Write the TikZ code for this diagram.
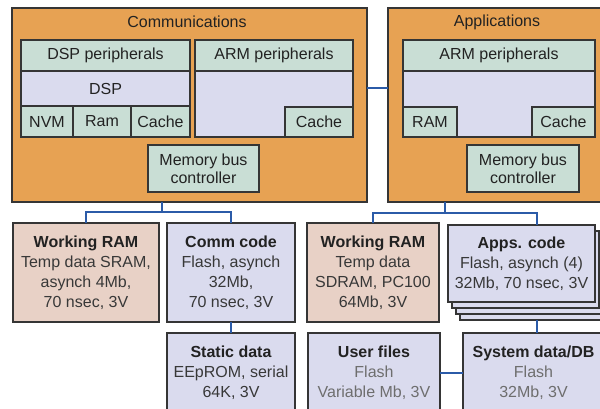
\documentclass[tikz,border=0pt]{standalone}
\usepackage{fontspec}
\setmainfont{Liberation Sans}
\definecolor{orng}{HTML}{E7A253}
\definecolor{grn}{HTML}{C9DED5}
\definecolor{lav}{HTML}{DADBEE}
\definecolor{pnk}{HTML}{E8D1C6}
\definecolor{edge}{HTML}{353535}
\definecolor{busc}{HTML}{2B5BA8}
\definecolor{txd}{HTML}{222222}
\definecolor{txb}{HTML}{383838}
\definecolor{txl}{HTML}{6E6E6E}
\begin{document}
\begin{tikzpicture}[x=1pt,y=-1pt,
  every node/.style={font=\fontsize{16}{20}\selectfont, inner sep=0pt, outer sep=0pt, text=txd},
  blk/.style={draw=edge, line width=1.6pt, anchor=north west, align=center},
  bus/.style={draw=busc, line width=2.5pt}]
\fill[white] (0,0) rectangle (600,409);
\clip (0,0) rectangle (600,409);
% big frames
\node[blk, fill=orng, minimum width=355pt, minimum height=194pt] (comm) at (12,8) {};
\node[blk, fill=orng, minimum width=216pt, minimum height=194pt] (apps) at (388,8) {};
\node (commt) at (187,22) {Communications};
\node (appst) at (497,22) {Applications};
% communications internals
\node[blk, fill=grn, minimum width=169pt, minimum height=31pt] (dspper) at (21,40) {DSP peripherals};
\node[blk, fill=lav, minimum width=169pt, minimum height=35pt] (dsp) at (21,71) {DSP};
\node[blk, fill=grn, minimum width=52pt, minimum height=31pt] (nvm) at (21,106) {NVM};
\node[blk, fill=grn, minimum width=58pt, minimum height=31pt] (ram1) at (73,106) {Ram};
\node[blk, fill=grn, minimum width=59pt, minimum height=31pt] (cache1) at (131,106) {Cache};
\node[blk, fill=grn, minimum width=158pt, minimum height=31pt] (armper1) at (195,40) {ARM peripherals};
\node[blk, fill=lav, minimum width=158pt, minimum height=66pt] (armbody1) at (195,71) {};
\node[blk, fill=grn, minimum width=68pt, minimum height=30pt] (cache2) at (285,107) {Cache};
\node[blk, fill=grn, minimum width=111pt, minimum height=47pt, font=\fontsize{16}{18}\selectfont] (mbc1) at (148,145) {Memory bus\\controller};
% applications internals
\node[blk, fill=grn, minimum width=192pt, minimum height=31pt] (armper2) at (403,40) {ARM peripherals};
\node[blk, fill=lav, minimum width=192pt, minimum height=66pt] (armbody2) at (403,71) {};
\node[blk, fill=grn, minimum width=54pt, minimum height=30pt] (ram2) at (403,107) {RAM};
\node[blk, fill=grn, minimum width=63pt, minimum height=30pt] (cache3) at (532,107) {Cache};
\node[blk, fill=grn, minimum width=112pt, minimum height=47pt, font=\fontsize{16}{18}\selectfont] (mbc2) at (467,145) {Memory bus\\controller};
% link between frames
\coordinate (lk) at (377,88);
\draw[bus] (lk -| comm.east) -- (lk -| apps.west);
% memories, communications side
\node[blk, fill=pnk, minimum width=146pt, minimum height=99pt] (wr1) at (13,223)
  {{\bfseries Working RAM}\\\textcolor{txb}{Temp data SRAM,}\\\textcolor{txb}{asynch 4Mb,}\\\textcolor{txb}{70 nsec, 3V}};
\node[blk, fill=lav, minimum width=128pt, minimum height=99pt] (cc) at (167,223)
  {{\bfseries Comm code}\\\textcolor{txb}{Flash, asynch}\\\textcolor{txb}{32Mb,}\\\textcolor{txb}{70 nsec, 3V}};
\node[blk, fill=lav, minimum width=128pt, minimum height=80pt] (sd) at (167,333)
  {{\bfseries Static data}\\\textcolor{txb}{EEpROM, serial}\\\textcolor{txb}{64K, 3V}};
% memories, applications side
\node[blk, fill=pnk, minimum width=132pt, minimum height=99pt] (wr2) at (307,223)
  {{\bfseries Working RAM}\\\textcolor{txb}{Temp data}\\\textcolor{txb}{SDRAM, PC100}\\\textcolor{txb}{64Mb, 3V}};
\node[blk, fill=lav, minimum width=147pt, minimum height=77pt] (s3) at (460,243) {};
\node[blk, fill=lav, minimum width=147pt, minimum height=77pt] (s2) at (456,237) {};
\node[blk, fill=lav, minimum width=147pt, minimum height=77pt] (s1) at (452,231) {};
\node[blk, fill=lav, minimum width=147pt, minimum height=77pt] (ac) at (448,225)
  {{\bfseries Apps. code}\\\textcolor{txb}{Flash, asynch (4)}\\\textcolor{txb}{32Mb, 70 nsec, 3V}};
\node[blk, fill=lav, minimum width=132pt, minimum height=80pt] (uf) at (308,333)
  {{\bfseries User files}\\\textcolor{txl}{Flash}\\\textcolor{txl}{Variable Mb, 3V}};
\node[blk, fill=lav, minimum width=141pt, minimum height=80pt] (sys) at (463,333)
  {{\bfseries System data/DB}\\\textcolor{txl}{Flash}\\\textcolor{txl}{32Mb, 3V}};
% buses
\coordinate (cb) at (162,212);
\draw[bus] (cb |- comm.south) -- (cb);
\draw[bus] (wr1.north) |- (cb) -| (cc.north);
\draw[bus] (cc.south) -- (sd.north);
\coordinate (ab) at (445,213);
\coordinate (abr) at (537,213);
\draw[bus] (ab |- apps.south) -- (ab);
\draw[bus] (wr2.north) |- (ab) -- (abr) -- (abr |- ac.north);
\draw[bus] (abr |- s3.south) -- (abr |- sys.north);
\draw[bus] (uf.east) -- (sys.west);
\end{tikzpicture}
\end{document}
